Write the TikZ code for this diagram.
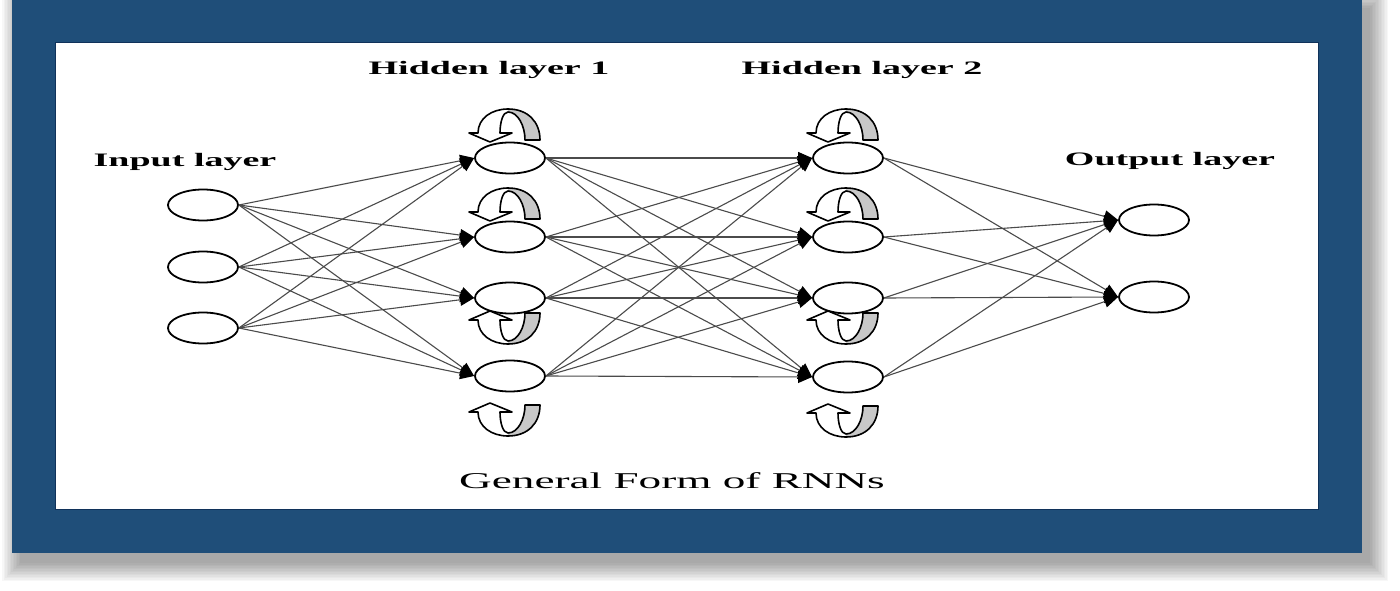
\documentclass[tikz,border=0pt]{standalone}
\usepackage{fontspec}
\setmainfont{Liberation Serif}
\usetikzlibrary{arrows.meta,shapes.geometric}
\definecolor{frameblue}{RGB}{31,78,121}
\definecolor{frameline}{RGB}{16,50,90}
\definecolor{edgegray}{RGB}{75,75,75}
\definecolor{loopgray}{RGB}{200,200,200}
\begin{document}
\begin{tikzpicture}[x=1pt,y=-1pt,
  neuron/.style={ellipse,draw=black,line width=1.8pt,fill=white,minimum width=70pt,minimum height=31pt,inner sep=0pt},
  conn/.style={draw=edgegray,line width=1.1pt,-{Triangle[length=14pt,width=12pt,color=black]}},
  lbl/.style={font=\bfseries\fontsize{19}{22}\selectfont,anchor=base,inner sep=0pt},
  ttl/.style={font=\fontsize{22.6}{26}\selectfont,anchor=base,inner sep=0pt},
  rloop/.pic={
    \fill[white] (-10,-25) -- (2,-25) -- (-20,-16) -- (-41,-25) -- (-32,-25)
      .. controls (-32,-40) and (-18,-49) .. (-2,-49)
      .. controls (18,-49) and (30,-36) .. (30,-18) -- (15,-18)
      .. controls (15,-32) and (8,-46) .. (-2,-46)
      .. controls (-7,-46) and (-10,-36) .. (-10,-25) -- cycle;
    \fill[loopgray] (-2,-49) .. controls (18,-49) and (30,-36) .. (30,-18) -- (15,-18)
      .. controls (15,-32) and (8,-46) .. (-2,-46) -- cycle;
    \draw[line width=1.6pt,line join=round] (-10,-25) -- (2,-25) -- (-20,-16) -- (-41,-25) -- (-32,-25)
      .. controls (-32,-40) and (-18,-49) .. (-2,-49)
      .. controls (18,-49) and (30,-36) .. (30,-18) -- (15,-18)
      .. controls (15,-32) and (8,-46) .. (-2,-46)
      .. controls (-7,-46) and (-10,-36) .. (-10,-25) -- cycle;
  }]
\useasboundingbox (0,0) rectangle (1400,591);
% shadow
\foreach \k in {0,...,12}
  \fill[black,opacity=0.03] (20-\k*1.5,8-\k*1.5) rectangle (1370+\k*1.5,563+\k*1.5);
% frame
\fill[frameblue] (12,0) rectangle (1362,553);
\fill[white,draw=frameline,line width=1pt] (55,43) rectangle (1318,509);

% labels
\node[lbl] (th1) at (489,75) {\scalebox{2}[1]{Hidden layer 1}};
\node[lbl] (th2) at (862,75) {\scalebox{2}[1]{Hidden layer 2}};
\node[lbl] (tin) at (185,167) {\scalebox{2}[1]{Input layer}};
\node[lbl] (tout) at (1170,165) {\scalebox{2}[1]{Output layer}};
\node[ttl] (title) at (672,488) {\scalebox{2}[1]{General Form of RNNs}};

% neurons
\node[neuron] (i1) at (203,205) {};
\node[neuron] (i2) at (203,267) {};
\node[neuron] (i3) at (203,328) {};
\node[neuron] (a1) at (510,158) {};
\node[neuron] (a2) at (510,237) {};
\node[neuron] (a3) at (510,298) {};
\node[neuron] (a4) at (510,376) {};
\node[neuron] (b1) at (848,158) {};
\node[neuron] (b2) at (848,237) {};
\node[neuron] (b3) at (848,298) {};
\node[neuron] (b4) at (848,377) {};
\node[neuron] (o1) at (1154,220) {};
\node[neuron] (o2) at (1154,297) {};

% connections
\foreach \s in {i1,i2,i3}
  \foreach \t in {a1,a2,a3,a4}
    \draw[conn] (\s.east) -- (\t.west);
\foreach \s in {a1,a2,a3,a4}
  \foreach \t in {b1,b2,b3,b4}
    \draw[conn] (\s.east) -- (\t.west);
\foreach \s in {b1,b2,b3,b4}
  \foreach \t in {o1,o2}
    \draw[conn] (\s.east) -- (\t.west);

% recurrent loops
\pic at (a1) {rloop};
\pic at (a2) {rloop};
\pic[yscale=-1] at ([yshift=3pt]a3) {rloop};
\pic[yscale=-1] at ([yshift=-11pt]a4) {rloop};
\pic at (b1) {rloop};
\pic at (b2) {rloop};
\pic[yscale=-1] at ([yshift=3pt]b3) {rloop};
\pic[yscale=-1] at ([yshift=-11pt]b4) {rloop};
\end{tikzpicture}
\end{document}
